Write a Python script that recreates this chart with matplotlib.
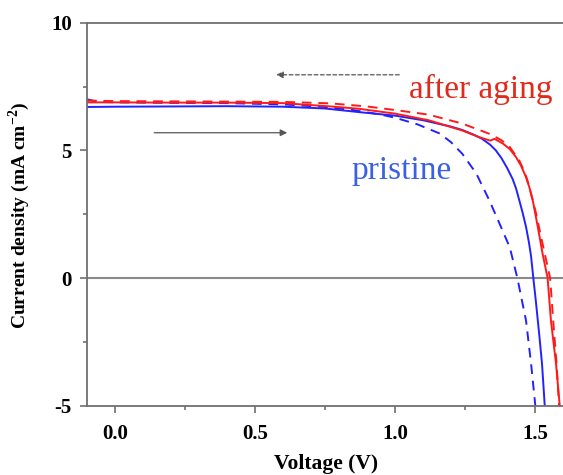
import matplotlib
matplotlib.use("Agg")
import matplotlib.pyplot as plt
from matplotlib.ticker import MultipleLocator

plt.rcParams['font.family'] = ['Liberation Serif', 'DejaVu Serif']
plt.rcParams['mathtext.fontset'] = 'custom'
plt.rcParams['mathtext.rm'] = 'Liberation Serif'
plt.rcParams['mathtext.bf'] = 'Liberation Serif:bold'

# pristine, forward scan (solid)
v_pri_f = [-0.10, 0.00, 0.20, 0.40, 0.60, 0.75, 0.87, 1.00, 1.10, 1.20, 1.24, 1.28,
           1.31, 1.34, 1.36, 1.38, 1.40, 1.42, 1.432, 1.444, 1.456, 1.468, 1.478,
           1.486, 1.494, 1.503, 1.515, 1.525, 1.536]
j_pri_f = [6.70, 6.71, 6.72, 6.73, 6.71, 6.64, 6.50, 6.36, 6.18, 5.93, 5.80, 5.62,
           5.46, 5.22, 5.00, 4.70, 4.32, 3.88, 3.52, 3.04, 2.55, 2.00, 1.42,
           0.85, 0.00, -0.90, -2.20, -3.35, -5.2]
# pristine, reverse scan (dashed)
v_pri_r = [-0.10, -0.06, 0.00, 0.20, 0.40, 0.60, 0.75, 0.85, 0.95, 1.00, 1.08, 1.16,
           1.20, 1.24, 1.29, 1.337, 1.373, 1.41, 1.437, 1.468, 1.486, 1.503]
j_pri_r = [7.00, 6.90, 6.88, 6.86, 6.85, 6.80, 6.70, 6.58, 6.40, 6.28, 6.02, 5.66,
           5.32, 4.87, 4.10, 3.04, 2.14, 1.20, 0.00, -1.67, -3.35, -5.2]
# after aging, forward scan (solid)
v_age_f = [-0.10, 0.00, 0.20, 0.40, 0.60, 0.77, 0.87, 1.00, 1.12, 1.24, 1.30, 1.34,
           1.355, 1.37, 1.385, 1.41, 1.432, 1.45, 1.468, 1.48, 1.492, 1.51, 1.527,
           1.545, 1.557, 1.575, 1.59]
j_age_f = [6.88, 6.88, 6.87, 6.87, 6.85, 6.72, 6.63, 6.44, 6.18, 5.78, 5.52, 5.38,
           5.45, 5.36, 5.27, 5.05, 4.74, 4.40, 3.95, 3.55, 3.04, 2.00, 0.96,
           0.00, -1.67, -3.35, -5.2]
# after aging, reverse scan (dashed)
v_age_r = [-0.10, 0.00, 0.20, 0.40, 0.60, 0.77, 0.90, 1.00, 1.12, 1.24, 1.337, 1.38,
           1.41, 1.444, 1.465, 1.48, 1.504, 1.527, 1.554, 1.565, 1.577, 1.587]
j_age_r = [6.95, 6.93, 6.92, 6.91, 6.90, 6.84, 6.72, 6.58, 6.40, 6.05, 5.65, 5.40,
           5.13, 4.60, 4.10, 3.56, 2.52, 1.34, 0.00, -1.67, -3.35, -5.2]

fig = plt.figure(figsize=(5.63, 4.75), dpi=100)
ax = fig.add_axes([0.1545, 0.1459, 0.8455, 0.8063])

red = '#ff1a1a'
blue = '#2222ff'
ax.axhline(0, color='#8a8a8a', lw=1.5, zorder=1)
ax.plot(v_pri_f, j_pri_f, color=blue, lw=1.4)
ax.plot(v_pri_r, j_pri_r, color=blue, lw=1.4, ls=(0, (5, 3.5)))
ax.plot(v_age_f, j_age_f, color=red, lw=1.4)
ax.plot(v_age_r, j_age_r, color=red, lw=1.4, ls=(0, (5, 3.5)))

# scan direction arrows
ax.annotate('', xy=(0.576, 7.96), xytext=(1.015, 7.96),
            arrowprops=dict(arrowstyle='-|>', color='#555555', lw=0.9, ls=(0, (3, 2)),
                            mutation_scale=10, shrinkA=0, shrinkB=0))
ax.annotate('', xy=(0.615, 5.69), xytext=(0.14, 5.69),
            arrowprops=dict(arrowstyle='-|>', color='#555555', lw=0.9,
                            mutation_scale=10, shrinkA=0, shrinkB=0))

ax.text(1.051, 7.05, 'after aging', color='#e22a1c', fontsize=24, va='baseline')
ax.text(0.846, 3.86, 'pristine', color='#3a62e0', fontsize=24, va='baseline')

ax.set_xlim(-0.1, 1.6)
ax.set_ylim(-5, 10)
ax.xaxis.set_minor_locator(MultipleLocator(0.25))
ax.yaxis.set_minor_locator(MultipleLocator(2.5))
ax.set_xticks([0.0, 0.5, 1.0, 1.5])
ax.set_xticklabels(['0.0', '0.5', '1.0', '1.5'])
ax.set_yticks([-5, 0, 5, 10])
ax.set_yticklabels(['-5', '0', '5', '10'])

for s in ['left', 'top', 'bottom']:
    ax.spines[s].set_color('#707070')
    ax.spines[s].set_linewidth(1.3)
ax.spines['right'].set_visible(False)
ax.tick_params(which='major', direction='out', length=5, width=1.2, color='#707070',
               labelsize=15, pad=6)
ax.tick_params(which='minor', direction='out', length=3, width=1.2, color='#707070')
ax.tick_params(axis='x', which='major', pad=8)
for lab in ax.get_xticklabels() + ax.get_yticklabels():
    lab.set_fontweight('bold')

ax.set_xlabel('Voltage (V)', fontsize=15.5, fontweight='bold')
ax.set_ylabel(r'Current density (mA cm$^{\mathbf{-2}}$)', fontsize=14, fontweight='bold')
ax.xaxis.set_label_coords(0.502, -0.125)
ax.yaxis.set_label_coords(-0.115, 0.498)

fig.savefig('out.png', dpi=100)
